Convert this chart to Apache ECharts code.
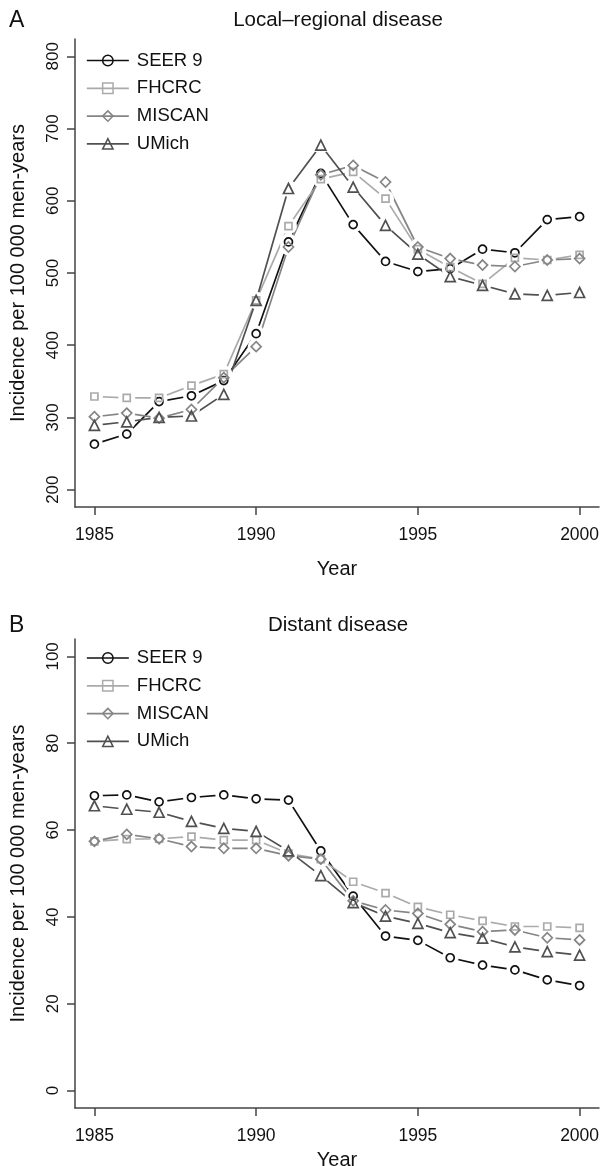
<!DOCTYPE html>
<html>
<head>
<meta charset="utf-8">
<script src="https://cdn.jsdelivr.net/npm/echarts@6/dist/echarts.min.js"></script>
<style>
html,body{margin:0;padding:0;background:#fff;}
#chart{width:601px;height:1166px;}
</style>
</head>
<body>
<div id="chart"></div>
<script>
// ---- data ----
const years = [1985,1986,1987,1988,1989,1990,1991,1992,1993,1994,1995,1996,1997,1998,1999,2000];
const modelNames = ['SEER 9','FHCRC','MISCAN','UMich'];

// Panel A: Local-regional disease
const seerLocal   = [263,277,322,330,351,416,543,638,567,516,502,506,533,528,574,578];
const fhcrcLocal  = [329,327,327,344,360,462,565,630,640,603,533,508,485,521,518,525];
const miscanLocal = [301,306,299,311,355,398,536,636,649,626,536,520,511,509,518,520];
const umichLocal  = [289,294,300,302,332,462,617,677,619,566,526,495,483,471,469,473];

// Panel B: Distant disease
const seerDistant   = [67.9,68.1,66.5,67.5,68.1,67.2,66.9,55.2,44.8,35.6,34.6,30.6,28.9,27.8,25.5,24.2];
const fhcrcDistant  = [57.4,57.9,58.0,58.5,57.7,57.7,54.6,53.3,48.1,45.5,42.3,40.5,39.1,37.8,37.8,37.5];
const miscanDistant = [57.4,59.0,58.0,56.2,55.8,55.8,54.1,53.3,43.7,41.6,40.8,38.3,36.6,37.0,35.2,34.7];
const umichDistant  = [65.6,64.8,64.1,62.0,60.4,59.7,55.2,49.5,43.3,40.2,38.5,36.4,35.1,33.1,32.0,31.2];

const xTicks = [1985,1990,1995,2000];
const yTicksLocal = [200,300,400,500,600,700,800];
const yTicksDistant = [0,20,40,60,80,100];

const panelTitles = ['Local–regional disease','Distant disease'];
const panelLetters = ['A','B'];
const xTitle = 'Year';
const yTitle = 'Incidence per 100 000 men-years';

// ---- styles ----
const FONT = '"Liberation Sans", Arial, Helvetica, sans-serif';
const TXT = '#111';
const AX = '#444';
const colors = ['#111111','#aaaaaa','#858585','#505050'];
const symbols = ['circle','rect','diamond','triangle'];
const symSizes = [8,7,10,10];
const MASK = 17;

function pairs(arr){ return years.map((y,i)=>[y,arr[i]]); }

const panels = [
  [seerLocal, fhcrcLocal, miscanLocal, umichLocal],
  [seerDistant, fhcrcDistant, miscanDistant, umichDistant]
];

const series = [];
panels.forEach((arrs, gi) => {
  // lines with white gap masks around the points (R type="b" look)
  arrs.forEach((arr, k) => {
    series.push({
      name: modelNames[k] + ' (line ' + gi + ')',
      type: 'line', xAxisIndex: gi, yAxisIndex: gi,
      data: pairs(arr),
      symbol: 'circle', symbolSize: MASK,
      itemStyle: {color: '#ffffff', borderWidth: 0},
      lineStyle: {color: colors[k], width: 1.7},
      silent: true, z: 2, animation: false
    });
  });
  // hollow markers on top
  arrs.forEach((arr, k) => {
    series.push({
      name: modelNames[k],
      type: 'line', xAxisIndex: gi, yAxisIndex: gi,
      data: pairs(arr),
      symbol: symbols[k], symbolSize: symSizes[k],
      itemStyle: {color: 'rgba(255,255,255,0)', borderColor: colors[k], borderWidth: 1.7},
      lineStyle: {color: colors[k], width: 0, opacity: 0},
      z: 3, animation: false
    });
  });
});

function legendFor(top){
  return {
    orient: 'vertical', left: 86, top: top, padding: 0,
    itemWidth: 42, itemHeight: 13, itemGap: 8.8,
    textStyle: {fontFamily: FONT, fontSize: 18.5, color: TXT, padding: [0,0,0,3]},
    selectedMode: false,
    data: modelNames.map((n,k)=>({
      name: n,
      itemStyle: {color: 'rgba(255,255,255,0)', borderColor: colors[k], borderWidth: 1.5},
      lineStyle: {color: colors[k], width: 1.7, opacity: 1}
    }))
  };
}

function xAxisFor(gi, gap){
  return {
    type: 'value', gridIndex: gi, min: 1984.4, max: 2000.6,
    name: xTitle, nameLocation: 'middle', nameGap: gap,
    nameTextStyle: {fontFamily: FONT, fontSize: 20, color: TXT},
    axisLine: {show: true, onZero: false, lineStyle: {color: AX, width: 1.5}},
    axisTick: {show: true, inside: false, length: 8, customValues: xTicks, lineStyle: {color: AX, width: 1.5}},
    axisLabel: {customValues: xTicks, margin: 19, fontFamily: FONT, fontSize: 17.5, color: TXT,
                hideOverlap: false, formatter: v => String(Math.round(v))},
    splitLine: {show: false}
  };
}
function yAxisFor(gi, min, max, ticks){
  return {
    type: 'value', gridIndex: gi, min: min, max: max,
    name: yTitle, nameLocation: 'middle', nameGap: 47, nameRotate: 90,
    nameTextStyle: {fontFamily: FONT, fontSize: 20, color: TXT},
    axisLine: {show: true, onZero: false, lineStyle: {color: AX, width: 1.5}},
    axisTick: {show: true, inside: false, length: 8, customValues: ticks, lineStyle: {color: AX, width: 1.5}},
    axisLabel: {customValues: ticks, rotate: 90, margin: 13, fontFamily: FONT, fontSize: 17, color: TXT,
                formatter: v => String(Math.round(v))},
    splitLine: {show: false}
  };
}

const option = {
  backgroundColor: '#ffffff',
  animation: false,
  title: [
    {text: panelLetters[0], left: 9, top: 9, padding: 0, textStyle: {fontFamily: FONT, fontSize: 23, fontWeight: 'normal', color: TXT}},
    {text: panelTitles[0], left: 338, top: 10, padding: 0, textAlign: 'center', textStyle: {fontFamily: FONT, fontSize: 20.5, fontWeight: 'normal', color: TXT}},
    {text: panelLetters[1], left: 9, top: 614, padding: 0, textStyle: {fontFamily: FONT, fontSize: 23, fontWeight: 'normal', color: TXT}},
    {text: panelTitles[1], left: 338, top: 615, padding: 0, textAlign: 'center', textStyle: {fontFamily: FONT, fontSize: 20.5, fontWeight: 'normal', color: TXT}}
  ],
  legend: [legendFor(51), legendFor(648.5)],
  grid: [
    {left: 75, top: 39, width: 524, height: 468, containLabel: false, outerBoundsMode: 'none'},
    {left: 75, top: 639, width: 524, height: 469, containLabel: false, outerBoundsMode: 'none'}
  ],
  xAxis: [xAxisFor(0, 52), xAxisFor(1, 42)],
  yAxis: [yAxisFor(0, 176, 824, yTicksLocal), yAxisFor(1, -4, 104, yTicksDistant)],
  series: series
};

const chart = echarts.init(document.getElementById('chart'), null, {renderer: 'canvas'});
chart.setOption(option);
</script>
</body>
</html>
